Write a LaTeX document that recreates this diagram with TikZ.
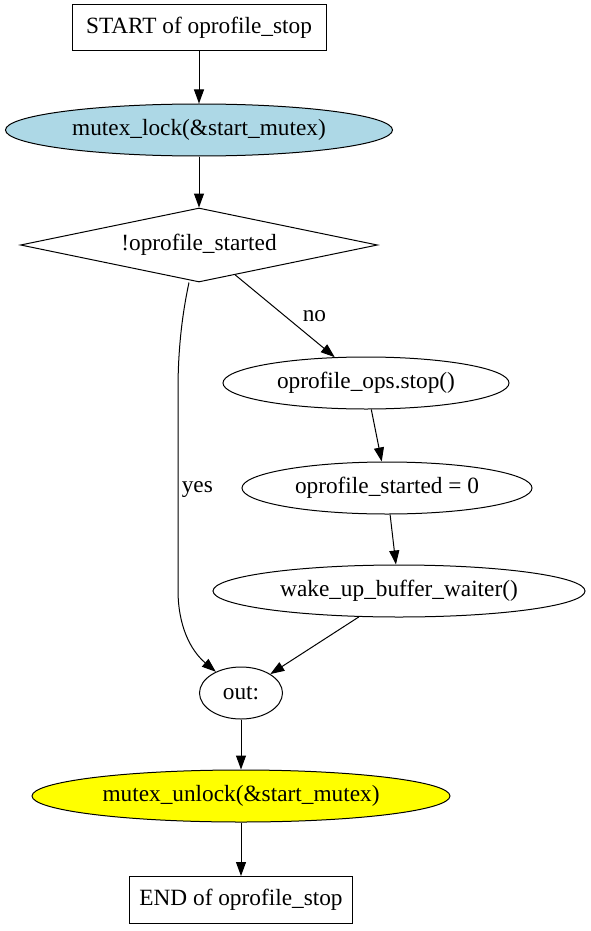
\documentclass[tikz,border=0pt]{standalone}
\usepackage{fontspec}
\setmainfont{Liberation Serif}
\usepackage{tikz}
\usetikzlibrary{positioning,arrows.meta,shapes.geometric}

\begin{document}
\begin{tikzpicture}[x=1pt, y=-1pt, every node/.style={font=\fontsize{23.3}{26}\selectfont},
  box/.style={rectangle, draw, line width=1pt, inner sep=0pt, align=center},
  oval/.style={ellipse, draw, line width=1pt, inner sep=0pt, minimum height=52pt},
  test/.style={diamond, draw, line width=1pt, inner sep=0pt, aspect=4.8, minimum width=357pt, minimum height=74pt},
  arrow/.style={-{Triangle[length=14pt, width=10pt]}, line width=1pt}]
  \useasboundingbox (0,0) rectangle (591,931);
  \node[box, minimum width=254pt, minimum height=46pt] (start) at (199,28) {START of oprofile\_stop};
  \node[oval, fill={rgb,255:red,173;green,216;blue,230}, minimum width=387pt] (lock) at (199,130) {mutex\_lock(\&start\_mutex)};
  \node[test] (cond) at (199,245) {!oprofile\_started};
  \node[oval, minimum width=286pt] (ops) at (366,383) {oprofile\_ops.stop()};
  \node[oval, minimum width=290pt] (zero) at (387,488) {oprofile\_started = 0};
  \node[oval, minimum width=372pt] (wake) at (399,591) {wake\_up\_buffer\_waiter()};
  \node[oval, minimum width=83pt] (out) at (241,693) {out:};
  \node[oval, fill={rgb,255:red,255;green,255;blue,0}, minimum width=418pt] (unlock) at (241,796) {mutex\_unlock(\&start\_mutex)};
  \node[box, minimum width=223pt, minimum height=47pt] (end) at (241,900) {END of oprofile\_stop};
  \draw[arrow] (start) -- (lock);
  \draw[arrow] (lock) -- (cond);
  \draw[arrow] (cond) -- node[pos=0.5, right=14pt] {no} (ops);
  \draw[arrow] ([xshift=-10pt]cond.south) .. controls (182,315) and (178,350) .. (178,390)
    -- node[right=0pt] {yes} (178,590) .. controls (178,625) and (190,650) .. (out);
  \draw[arrow] (ops) -- (zero);
  \draw[arrow] (zero) -- (wake);
  \draw[arrow] (wake) -- (out);
  \draw[arrow] (out) -- (unlock);
  \draw[arrow] (unlock) -- (end);
\end{tikzpicture}
\end{document}
